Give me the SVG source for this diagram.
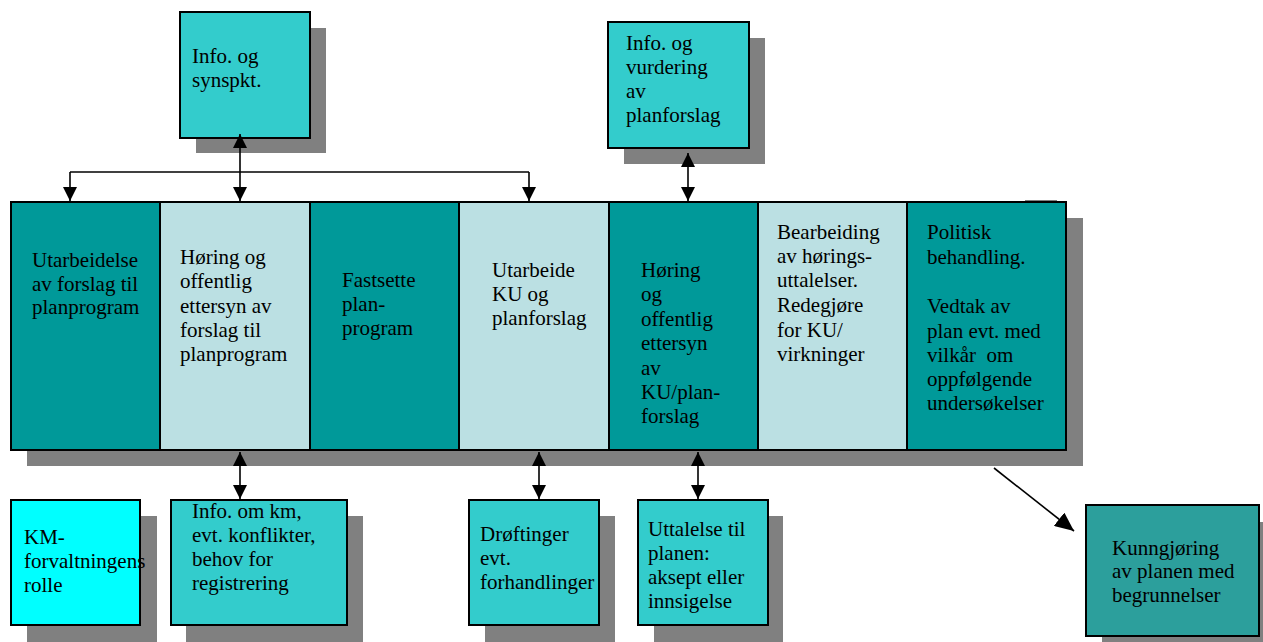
<svg xmlns="http://www.w3.org/2000/svg" width="1263" height="642" viewBox="0 0 1263 642" font-family="'Liberation Serif', 'DejaVu Serif', 'Times New Roman', serif">
<style>
text{font-family:'Liberation Serif','DejaVu Serif',serif;font-size:21px;fill:#000}
.sh{fill:#808080}
.box{stroke:#000;stroke-width:2}
.dark{fill:#009999}
.light{fill:#BBE0E3}
.cyan{fill:#33CCCC}
.con{fill:none;stroke:#000;stroke-width:1.6}
</style>
<defs>
<marker id="ah" markerUnits="userSpaceOnUse" markerWidth="14" markerHeight="14" refX="14" refY="7" orient="auto-start-reverse" viewBox="0 0 14 14">
<path d="M0,0 L14,7 L0,14 z" fill="#000"/>
</marker>
<marker id="ahb" markerUnits="userSpaceOnUse" markerWidth="19" markerHeight="17" refX="19" refY="8.5" orient="auto" viewBox="0 0 19 17">
<path d="M0,0 L19,8.5 L0,17 z" fill="#000"/>
</marker>
</defs>

<g id="main-row">
<rect class="sh" x="27" y="218" width="1056" height="248"/>
<rect class="sh" x="1025" y="200" width="32" height="3"/>
</g>

<g id="col1">
<rect class="box dark" x="11" y="202" width="149" height="248"/>
<text x="32" y="267">Utarbeidelse</text>
<text x="32" y="291">av forslag til</text>
<text x="32" y="314">planprogram</text>
</g>
<g id="col2">
<rect class="box light" x="160" y="202" width="150" height="248"/>
<text x="180" y="264">Høring og</text>
<text x="180" y="288">offentlig</text>
<text x="180" y="313">ettersyn av</text>
<text x="180" y="337">forslag til</text>
<text x="180" y="361">planprogram</text>
</g>
<g id="col3">
<rect class="box dark" x="310" y="202" width="149" height="248"/>
<text x="342" y="287">Fastsette</text>
<text x="342" y="311">plan-</text>
<text x="342" y="335">program</text>
</g>
<g id="col4">
<rect class="box light" x="459" y="202" width="150" height="248"/>
<text x="492" y="277">Utarbeide</text>
<text x="492" y="301">KU og</text>
<text x="492" y="325">planforslag</text>
</g>
<g id="col5">
<rect class="box dark" x="609" y="202" width="149" height="248"/>
<text x="641" y="277">Høring</text>
<text x="641" y="301">og</text>
<text x="641" y="326">offentlig</text>
<text x="641" y="350">ettersyn</text>
<text x="641" y="375">av</text>
<text x="641" y="399">KU/plan-</text>
<text x="641" y="423">forslag</text>
</g>
<g id="col6">
<rect class="box light" x="758" y="202" width="149" height="248"/>
<text x="777" y="239">Bearbeiding</text>
<text x="777" y="263">av hørings-</text>
<text x="777" y="287">uttalelser.</text>
<text x="777" y="312">Redegjøre</text>
<text x="777" y="337">for KU/</text>
<text x="777" y="361">virkninger</text>
</g>
<g id="col7">
<rect class="box dark" x="907" y="202" width="159" height="248"/>
<text x="927" y="239">Politisk</text>
<text x="927" y="264">behandling.</text>
<text x="927" y="313">Vedtak av</text>
<text x="927" y="338">plan evt. med</text>
<text x="927" y="362" xml:space="preserve">vilkår  om</text>
<text x="927" y="386">oppfølgende</text>
<text x="927" y="410">undersøkelser</text>
</g>

<g id="top-info-synspkt">
<rect class="sh" x="196" y="28" width="130" height="125"/>
<rect class="box cyan" x="180" y="12" width="130" height="126"/>
<text x="192" y="63">Info. og</text>
<text x="192" y="87">synspkt.</text>
</g>

<g id="top-info-vurdering">
<rect class="sh" x="624" y="38" width="141" height="126"/>
<rect class="box cyan" x="608" y="22" width="141" height="126"/>
<text x="626" y="50">Info. og</text>
<text x="626" y="74">vurdering</text>
<text x="626" y="98">av</text>
<text x="626" y="122">planforslag</text>
</g>

<g id="km-rolle">
<rect class="sh" x="27" y="516" width="130" height="126"/>
<rect class="box" fill="#00FFFF" x="11" y="500" width="129" height="125"/>
<text x="24" y="544">KM-</text>
<text x="24" y="568">forvaltningens</text>
<text x="24" y="592">rolle</text>
</g>

<g id="info-km">
<rect class="sh" x="186" y="516" width="177" height="126"/>
<rect class="box cyan" x="171" y="500" width="176" height="125"/>
<text x="192" y="518">Info. om km,</text>
<text x="192" y="542">evt. konflikter,</text>
<text x="192" y="566">behov for</text>
<text x="192" y="590">registrering</text>
</g>

<g id="droftinger">
<rect class="sh" x="485" y="516" width="130" height="126"/>
<rect class="box cyan" x="469" y="500" width="130" height="125"/>
<text x="480" y="541">Drøftinger</text>
<text x="480" y="565">evt.</text>
<text x="480" y="589">forhandlinger</text>
</g>

<g id="uttalelse">
<rect class="sh" x="654" y="516" width="129" height="126"/>
<rect class="box cyan" x="638" y="500" width="130" height="125"/>
<text x="648" y="536">Uttalelse til</text>
<text x="648" y="560">planen:</text>
<text x="648" y="584">aksept eller</text>
<text x="648" y="608">innsigelse</text>
</g>

<g id="kunngjoring">
<rect class="sh" x="1102" y="522" width="161" height="120"/>
<rect class="box" fill="#2C9F9C" x="1086" y="505" width="173" height="131"/>
<text x="1112" y="555">Kunngjøring</text>
<text x="1112" y="578">av planen med</text>
<text x="1112" y="602">begrunnelser</text>
</g>

<g id="connectors">
<path class="con" d="M70,172 H529"/>
<path class="con" d="M70,172 V201" marker-end="url(#ah)"/>
<path class="con" d="M529,172 V201" marker-end="url(#ah)"/>
<path class="con" d="M240,134 V201" marker-start="url(#ah)" marker-end="url(#ah)"/>
<path class="con" d="M688,153 V201" marker-start="url(#ah)" marker-end="url(#ah)"/>
<path class="con" d="M240,452 V499" marker-start="url(#ah)" marker-end="url(#ah)"/>
<path class="con" d="M539,452 V499" marker-start="url(#ah)" marker-end="url(#ah)"/>
<path class="con" d="M698,452 V499" marker-start="url(#ah)" marker-end="url(#ah)"/>
<path class="con" d="M994,468 L1074,531" marker-end="url(#ahb)"/>
</g>
</svg>
